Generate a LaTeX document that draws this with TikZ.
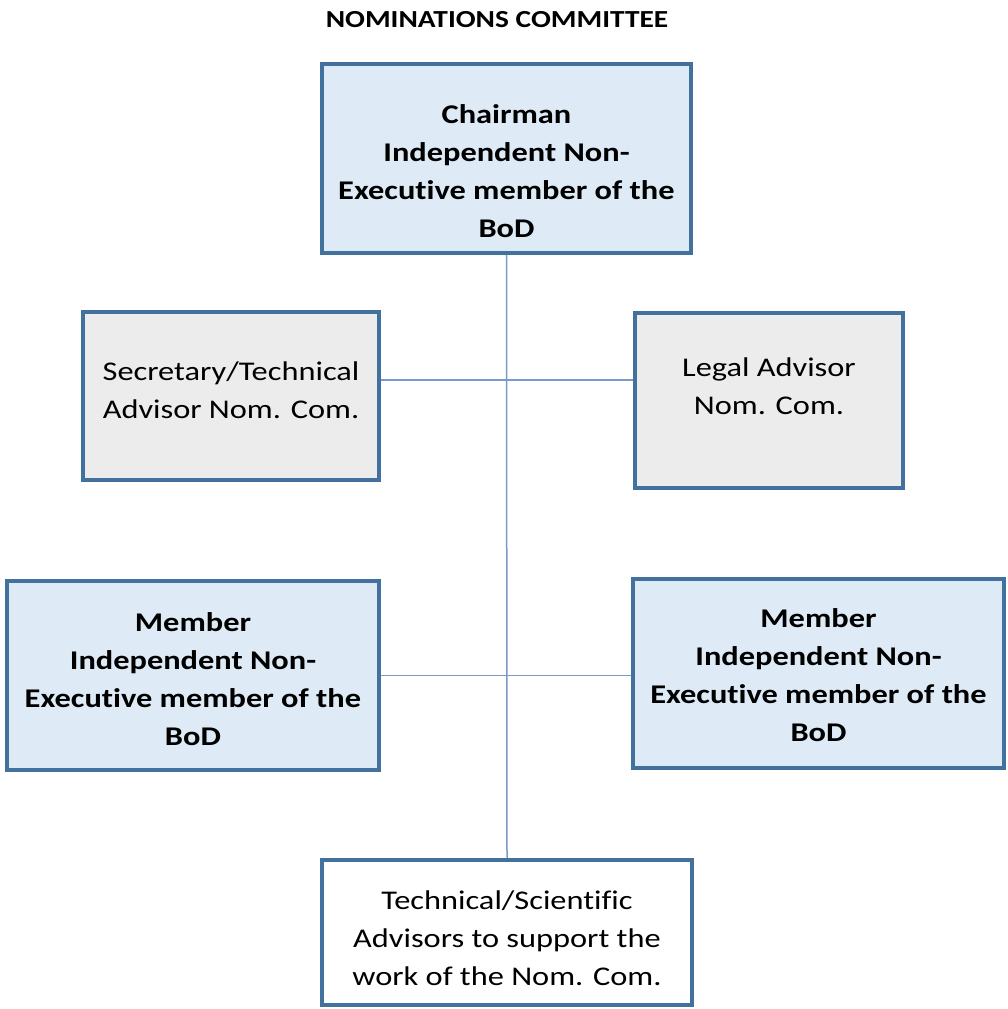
\documentclass[tikz,border=0pt]{standalone}
\usepackage{fontspec}
\setmainfont{Carlito}[FakeStretch=1.2, Ligatures=NoCommon]
\usetikzlibrary{positioning}
\definecolor{boxline}{RGB}{65,113,156}
\definecolor{memberfill}{RGB}{222,235,247}
\definecolor{advisorfill}{RGB}{236,236,236}
\definecolor{linkline}{RGB}{120,155,200}
\tikzset{
  x=1pt, y=-1pt,
  every node/.style={align=center, font=\fontsize{27}{38}\selectfont},
  orgbox/.style={draw=boxline, line width=4pt, inner sep=0pt},
  member/.style={orgbox, fill=memberfill},
  advisor/.style={orgbox, fill=advisorfill},
  support/.style={orgbox, fill=white},
  boldtext/.style={font=\fontsize{27}{38}\selectfont\bfseries},
  link/.style={draw=linkline, line width=1.5pt},
}

\begin{document}
\begin{tikzpicture}
  \useasboundingbox (0,0) rectangle (1008,1009);

  % title
  \node[font=\fontsize{24.5}{29}\selectfont\bfseries] (title) at (497,20) {NOMINATIONS COMMITTEE};

  % boxes
  \node[member, minimum width=369pt, minimum height=189pt] (chair) at (506.5,158.5) {};
  \node[advisor, minimum width=296pt, minimum height=168pt] (secretary) at (231,396) {};
  \node[advisor, minimum width=268pt, minimum height=175pt] (legal) at (769,400.5) {};
  \node[member, minimum width=372pt, minimum height=189pt] (memberL) at (193,675.5) {};
  \node[member, minimum width=371pt, minimum height=189pt] (memberR) at (818.5,673.5) {};
  \node[support, minimum width=370pt, minimum height=145pt] (advisors) at (507,932.5) {};

  % box texts
  \node[boldtext] (chair-text) at ([yshift=-13pt]chair.center)
    {Chairman\\Independent Non-\\Executive member of the\\BoD};
  \node (secretary-text) at ([yshift=6pt]secretary.center)
    {Secretary/Technical\\Advisor Nom. Com.};
  \node (legal-text) at ([yshift=14pt]legal.center)
    {Legal Advisor\\Nom. Com.};
  \node[boldtext] (memberL-text) at ([yshift=-4pt]memberL.center)
    {Member\\Independent Non-\\Executive member of the\\BoD};
  \node[boldtext] (memberR-text) at ([yshift=-1.5pt]memberR.center)
    {Member\\Independent Non-\\Executive member of the\\BoD};
  \node (advisors-text) at ([yshift=-6pt]advisors.center)
    {Technical/Scientific\\Advisors to support the\\work of the Nom. Com.};

  % links
  \draw[link] (chair.south) -- (advisors.north);
  \draw[link] ([yshift=16pt]secretary.east) -- ([yshift=20.5pt]legal.west);
  \draw[link] (memberL.east) -- (memberL.east -| memberR.west);

\end{tikzpicture}
\end{document}
